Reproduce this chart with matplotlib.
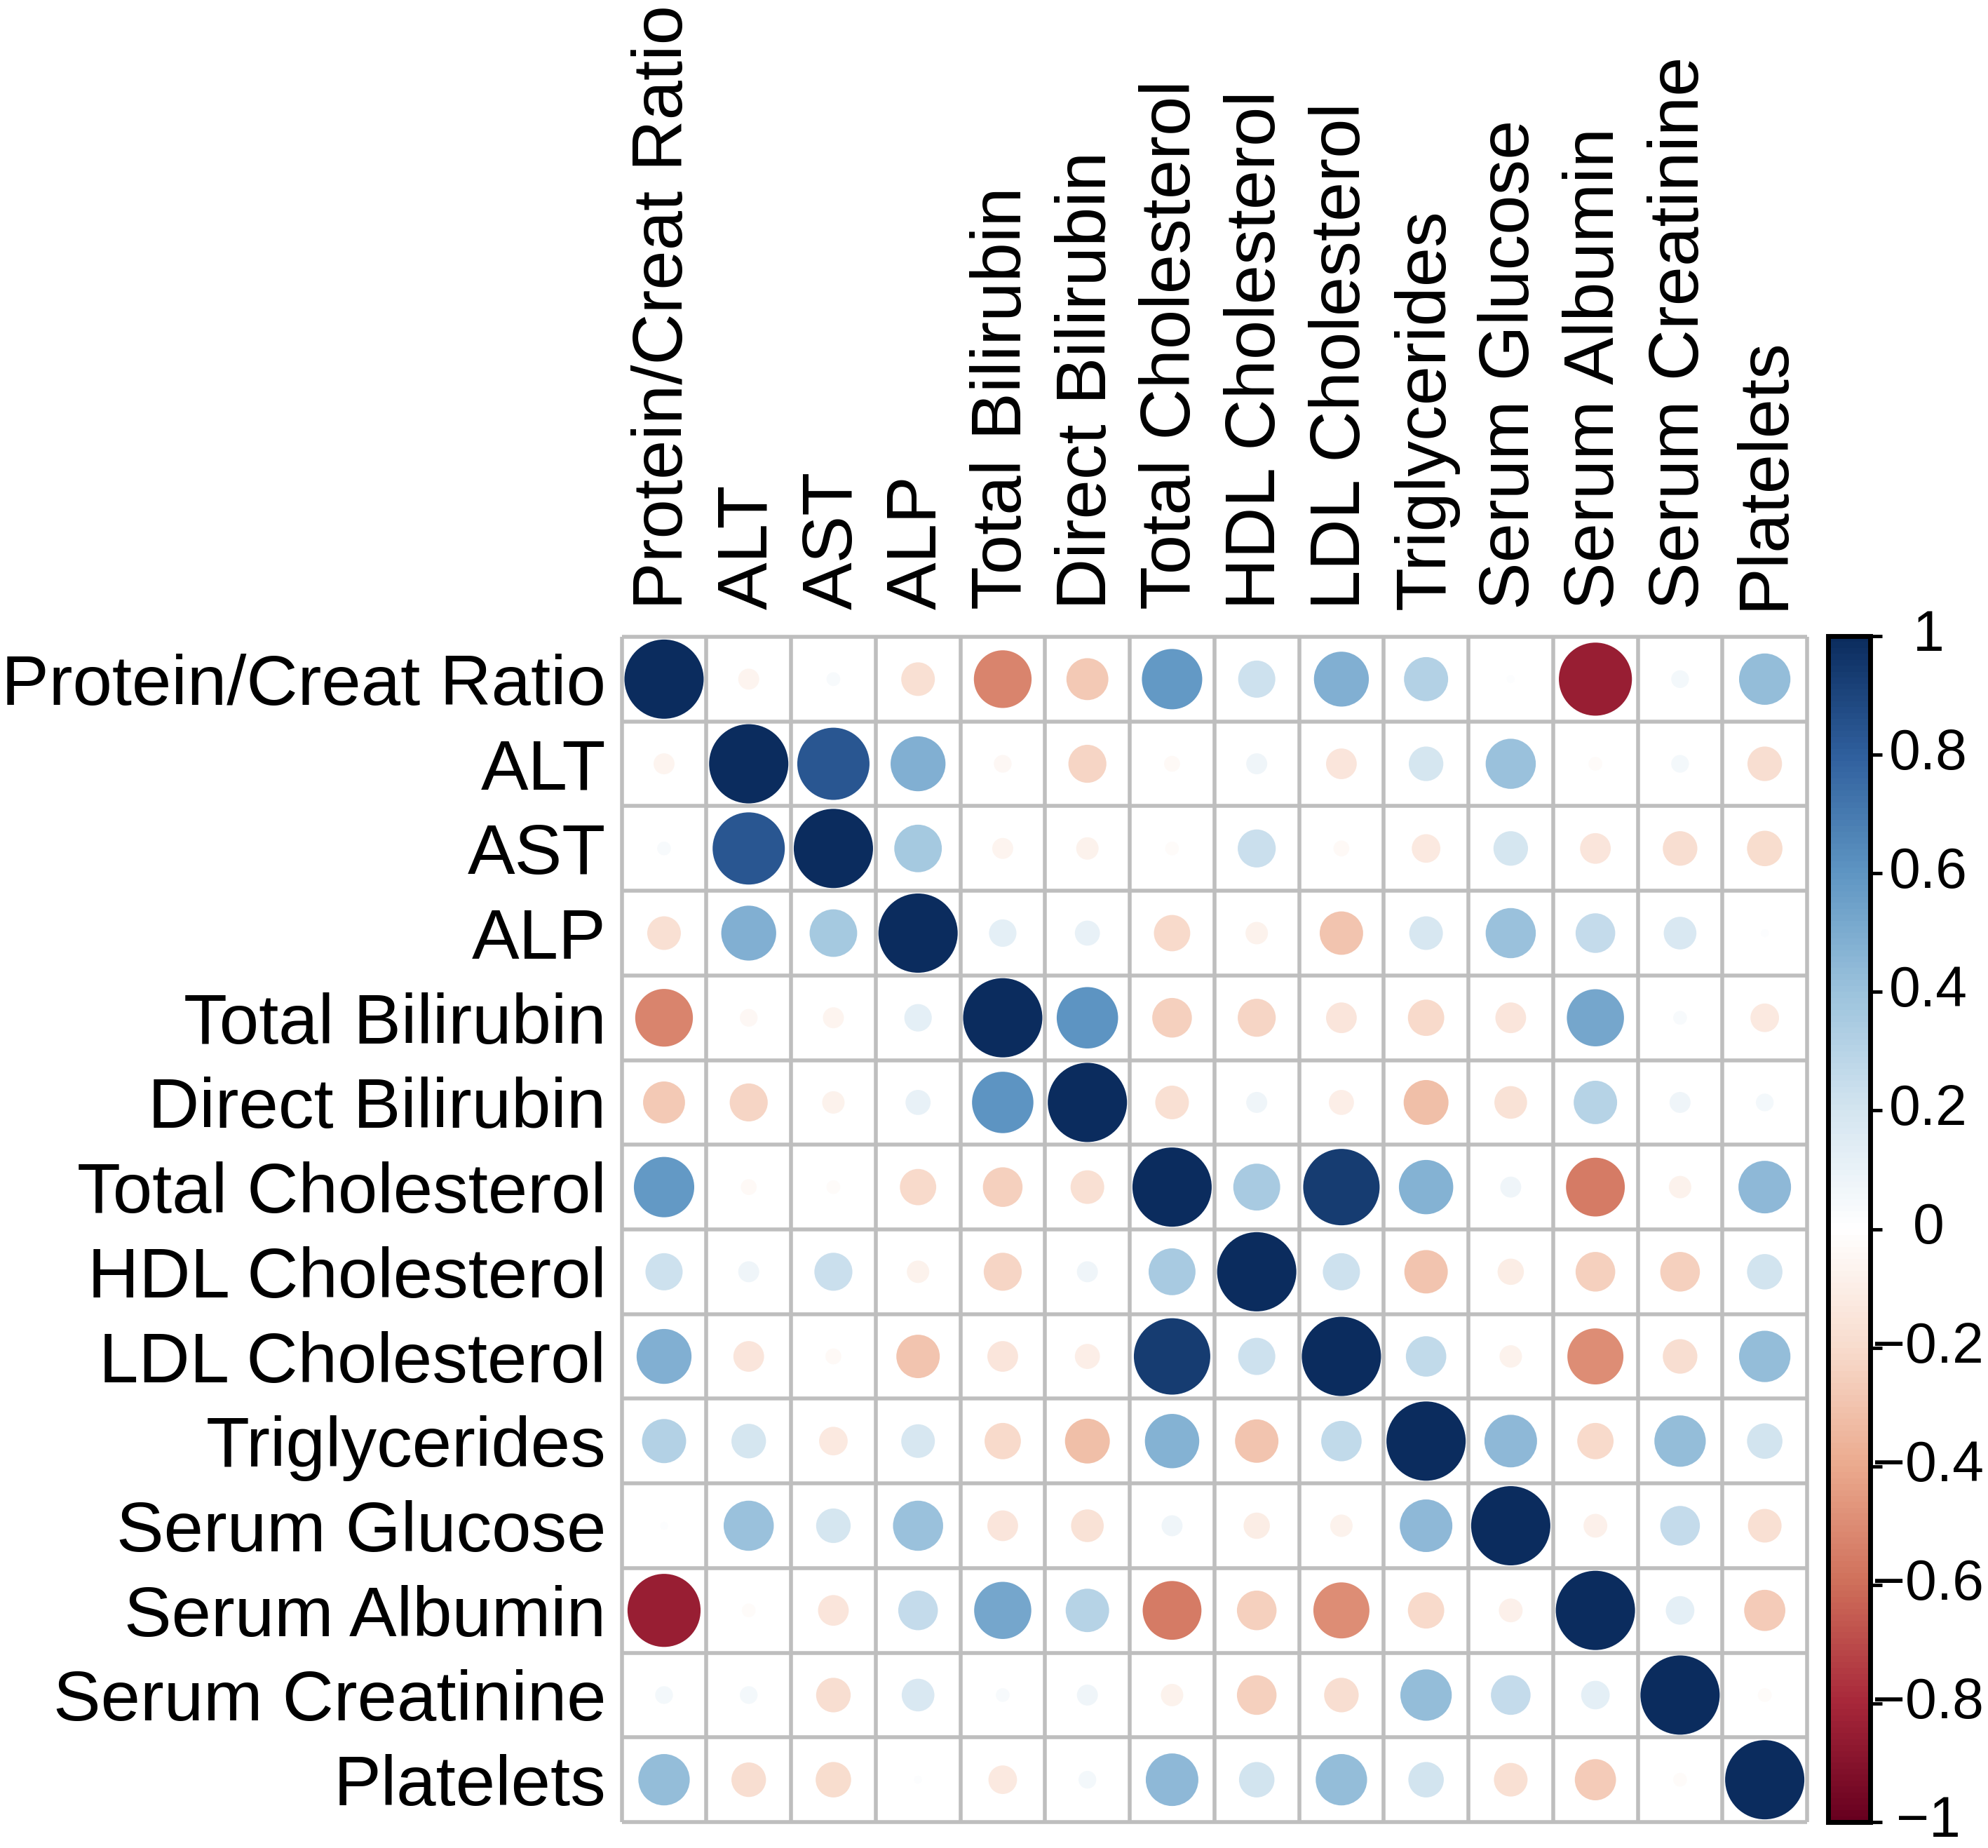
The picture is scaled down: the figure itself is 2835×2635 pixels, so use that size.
import numpy as np
import matplotlib
matplotlib.use("Agg")
import matplotlib.pyplot as plt
from matplotlib.colors import LinearSegmentedColormap, Normalize
from matplotlib.patches import Circle
from matplotlib.collections import PatchCollection

plt.rcParams['font.family'] = ['Liberation Sans', 'DejaVu Sans']

# variables (rows and columns share the same order)
variables = ["Protein/Creat Ratio", "ALT", "AST", "ALP", "Total Bilirubin",
             "Direct Bilirubin", "Total Cholesterol", "HDL Cholesterol",
             "LDL Cholesterol", "Triglycerides", "Serum Glucose",
             "Serum Albumin", "Serum Creatinine", "Platelets"]

# correlation values, one row per variable
corr_rows = [
    [1.00, -0.07, 0.03, -0.18, -0.53, -0.28, 0.58, 0.22, 0.48, 0.31, 0.01, -0.85, 0.05, 0.42],
    [-0.07, 1.00, 0.83, 0.48, -0.05, -0.23, -0.04, 0.07, -0.15, 0.19, 0.40, -0.03, 0.05, -0.19],
    [0.03, 0.83, 1.00, 0.36, -0.07, -0.08, -0.03, 0.23, -0.04, -0.13, 0.19, -0.15, -0.19, -0.20],
    [-0.18, 0.48, 0.36, 1.00, 0.12, 0.10, -0.21, -0.08, -0.30, 0.18, 0.40, 0.25, 0.17, 0.01],
    [-0.53, -0.05, -0.07, 0.12, 1.00, 0.60, -0.25, -0.23, -0.15, -0.21, -0.15, 0.52, 0.03, -0.13],
    [-0.28, -0.23, -0.08, 0.10, 0.60, 1.00, -0.18, 0.07, -0.10, -0.32, -0.17, 0.30, 0.07, 0.05],
    [0.58, -0.04, -0.03, -0.21, -0.25, -0.18, 1.00, 0.35, 0.93, 0.47, 0.07, -0.55, -0.08, 0.44],
    [0.22, 0.07, 0.23, -0.08, -0.23, 0.07, 0.35, 1.00, 0.22, -0.30, -0.11, -0.25, -0.25, 0.20],
    [0.48, -0.15, -0.04, -0.30, -0.15, -0.10, 0.93, 0.22, 1.00, 0.26, -0.08, -0.50, -0.19, 0.42],
    [0.31, 0.19, -0.13, 0.18, -0.21, -0.32, 0.47, -0.30, 0.26, 1.00, 0.44, -0.21, 0.42, 0.20],
    [0.01, 0.40, 0.19, 0.40, -0.15, -0.17, 0.07, -0.11, -0.08, 0.44, 1.00, -0.09, 0.25, -0.18],
    [-0.85, -0.03, -0.15, 0.25, 0.52, 0.30, -0.55, -0.25, -0.50, -0.21, -0.09, 1.00, 0.13, -0.27],
    [0.05, 0.05, -0.19, 0.17, 0.03, 0.07, -0.08, -0.25, -0.19, 0.42, 0.25, 0.13, 1.00, -0.03],
    [0.42, -0.19, -0.20, 0.01, -0.13, 0.05, 0.44, 0.20, 0.42, 0.20, -0.18, -0.27, -0.03, 1.00],
]

cbar_ticks = [-1, -0.8, -0.6, -0.4, -0.2, 0, 0.2, 0.4, 0.6, 0.8, 1]
cbar_labels = ["\u22121", "\u22120.8", "\u22120.6", "\u22120.4", "\u22120.2",
               "0", "0.2", "0.4", "0.6", "0.8", "1"]

# red-white-blue palette, slightly muted like the figure
palette = ["#67001F", "#A8283A", "#CF6F5A", "#EBAA8E", "#F8DCCD", "#FFFFFF",
           "#D4E5F0", "#9CC3DD", "#5F96C3", "#30609E", "#0B2C5E"]
cmap = LinearSegmentedColormap.from_list("corr_rdbu", palette, N=200)
norm = Normalize(-1, 1)

corr = np.array(corr_rows)
n = len(variables)

W, H = 2835, 2635
fig = plt.figure(figsize=(W / 100, H / 100), dpi=100)

gx0, gx1, gy0, gy1 = 886.6, 2577, 908, 2598
ax = fig.add_axes([gx0 / W, 1 - gy1 / H, (gx1 - gx0) / W, (gy1 - gy0) / H])
ax.set_xlim(0, n)
ax.set_ylim(n, 0)

# circles: area proportional to |r|
circles = []
vals = []
for i in range(n):
    for j in range(n):
        r = corr[i, j]
        circles.append(Circle((j + 0.5, i + 0.5), 0.468 * np.sqrt(abs(r))))
        vals.append(r)
pc = PatchCollection(circles, cmap=cmap, norm=norm, edgecolor="none", zorder=2)
pc.set_array(np.array(vals))
ax.add_collection(pc)

# grid
grid_col = "#BEBEBE"
ax.hlines(np.arange(n + 1), 0, n, color=grid_col, lw=4, zorder=3, clip_on=False)
ax.vlines(np.arange(n + 1), 0, n, color=grid_col, lw=4, zorder=3, clip_on=False)

for s in ax.spines.values():
    s.set_visible(False)

ax.set_xticks(np.arange(n) + 0.5)
ax.set_yticks(np.arange(n) + 0.5)
ax.xaxis.tick_top()
ax.set_xticklabels(variables, rotation=90, fontsize=73)
ax.set_yticklabels(variables, fontsize=73)
ax.tick_params(axis="x", length=0, pad=28)
ax.tick_params(axis="y", length=0, pad=16)

# colour bar
cax = fig.add_axes([2606.5 / W, 1 - gy1 / H, 60 / W, (gy1 - 907) / H])
sm = plt.cm.ScalarMappable(cmap=cmap, norm=norm)
cb = fig.colorbar(sm, cax=cax, ticks=cbar_ticks)
cb.outline.set_linewidth(5)
cb.outline.set_edgecolor("black")
cb.ax.set_yticklabels(cbar_labels, fontsize=58)
cb.ax.tick_params(length=12, width=3.5, pad=48)
for lab in cb.ax.get_yticklabels():
    lab.set_horizontalalignment("center")
    lab.set_verticalalignment("center")

fig.savefig("out.png", dpi=100, facecolor="white")
